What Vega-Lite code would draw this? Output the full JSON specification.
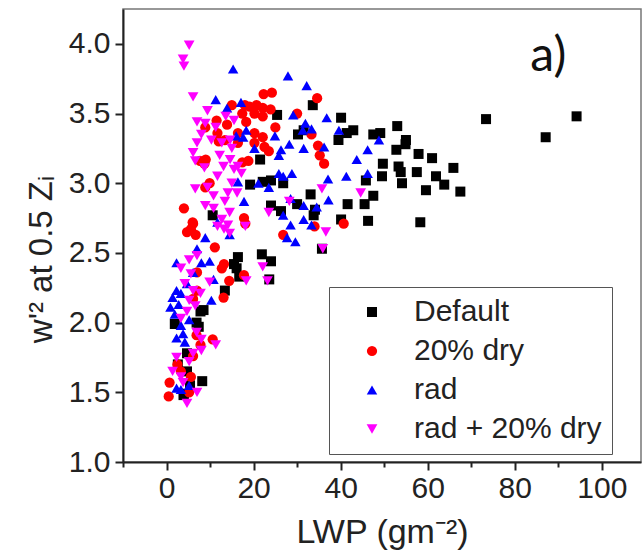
{
  "$schema": "https://vega.github.io/schema/vega-lite/v6.json",
  "width": 518,
  "height": 453,
  "autosize": {"type": "none"},
  "padding": {"left": 123, "top": 9, "right": 1, "bottom": 93},
  "background": "white",
  "config": {
    "font": "Liberation Sans",
    "view": {"stroke": "#777", "strokeWidth": 1.5},
    "axis": {"grid": false, "domainColor": "#222", "domainWidth": 2, "tickColor": "#222", "tickWidth": 2, "labelColor": "#222", "titleColor": "#222", "labelFont": "Liberation Sans", "titleFont": "Liberation Sans", "titleFontWeight": "normal"}
  },
  "layer": [
    {
      "data": {"values": [
        {"series":"Default","lwp":94.2,"w2":3.48},{"series":"Default","lwp":73.4,"w2":3.46},{"series":"Default","lwp":87.1,"w2":3.33},{"series":"Default","lwp":40.1,"w2":3.47},{"series":"Default","lwp":39.5,"w2":3.31},{"series":"Default","lwp":41.4,"w2":3.36},{"series":"Default","lwp":42.9,"w2":3.38},{"series":"Default","lwp":53,"w2":3.41},{"series":"Default","lwp":47.5,"w2":3.35},{"series":"Default","lwp":49.1,"w2":3.36},{"series":"Default","lwp":55,"w2":3.31},{"series":"Default","lwp":54.9,"w2":3.28},{"series":"Default","lwp":52.8,"w2":3.24},{"series":"Default","lwp":57.9,"w2":3.21},{"series":"Default","lwp":61,"w2":3.18},{"series":"Default","lwp":65.9,"w2":3.11},{"series":"Default","lwp":49.7,"w2":3.14},{"series":"Default","lwp":53.3,"w2":3.12},{"series":"Default","lwp":53.8,"w2":3.08},{"series":"Default","lwp":57.5,"w2":3.08},{"series":"Default","lwp":49.5,"w2":3.05},{"series":"Default","lwp":54.1,"w2":3.0},{"series":"Default","lwp":61.9,"w2":3.05},{"series":"Default","lwp":63.8,"w2":2.99},{"series":"Default","lwp":67.5,"w2":2.94},{"series":"Default","lwp":59.6,"w2":2.95},{"series":"Default","lwp":45.8,"w2":3.02},{"series":"Default","lwp":47.5,"w2":2.91},{"series":"Default","lwp":45.5,"w2":2.85},{"series":"Default","lwp":41.6,"w2":2.85},{"series":"Default","lwp":58.3,"w2":2.72},{"series":"Default","lwp":46.3,"w2":2.73},{"series":"Default","lwp":40.1,"w2":2.74},{"series":"Default","lwp":33.6,"w2":3.56},{"series":"Default","lwp":25.4,"w2":3.49},{"series":"Default","lwp":30.2,"w2":3.35},{"series":"Default","lwp":31.5,"w2":3.38},{"series":"Default","lwp":21.5,"w2":3.17},{"series":"Default","lwp":19.2,"w2":2.99},{"series":"Default","lwp":22.1,"w2":3.01},{"series":"Default","lwp":24,"w2":3.02},{"series":"Default","lwp":26.8,"w2":3.0},{"series":"Default","lwp":24,"w2":2.84},{"series":"Default","lwp":26.3,"w2":2.8},{"series":"Default","lwp":30,"w2":2.85},{"series":"Default","lwp":33.1,"w2":2.92},{"series":"Default","lwp":34.1,"w2":2.81},{"series":"Default","lwp":33.8,"w2":2.77},{"series":"Default","lwp":35.7,"w2":2.53},{"series":"Default","lwp":10.6,"w2":2.77},{"series":"Default","lwp":16.4,"w2":2.47},{"series":"Default","lwp":15.5,"w2":2.42},{"series":"Default","lwp":21.9,"w2":2.49},{"series":"Default","lwp":24,"w2":2.44},{"series":"Default","lwp":23.6,"w2":2.31},{"series":"Default","lwp":16.7,"w2":2.33},{"series":"Default","lwp":16.1,"w2":2.39},{"series":"Default","lwp":13.4,"w2":2.23},{"series":"Default","lwp":7.8,"w2":2.08},{"series":"Default","lwp":8.5,"w2":2.09},{"series":"Default","lwp":6.9,"w2":2.0},{"series":"Default","lwp":1.9,"w2":1.99},{"series":"Default","lwp":7.4,"w2":1.97},{"series":"Default","lwp":4.7,"w2":1.78},{"series":"Default","lwp":2.6,"w2":1.7},{"series":"Default","lwp":4.7,"w2":1.65},{"series":"Default","lwp":8.2,"w2":1.58},{"series":"Default","lwp":5.4,"w2":1.55},{"series":"Default","lwp":4.0,"w2":1.49},{"series":"Default","lwp":3.9,"w2":1.48},
        {"series":"20% dry","lwp":24.2,"w2":3.65},{"series":"20% dry","lwp":22.3,"w2":3.64},{"series":"20% dry","lwp":34.6,"w2":3.61},{"series":"20% dry","lwp":15,"w2":3.56},{"series":"20% dry","lwp":18,"w2":3.56},{"series":"20% dry","lwp":20.7,"w2":3.56},{"series":"20% dry","lwp":19.1,"w2":3.55},{"series":"20% dry","lwp":22.1,"w2":3.54},{"series":"20% dry","lwp":23.9,"w2":3.53},{"series":"20% dry","lwp":17.4,"w2":3.5},{"series":"20% dry","lwp":20.2,"w2":3.5},{"series":"20% dry","lwp":30,"w2":3.5},{"series":"20% dry","lwp":22.1,"w2":3.48},{"series":"20% dry","lwp":11.5,"w2":3.45},{"series":"20% dry","lwp":18.3,"w2":3.44},{"series":"20% dry","lwp":13.9,"w2":3.42},{"series":"20% dry","lwp":8.9,"w2":3.4},{"series":"20% dry","lwp":11.7,"w2":3.36},{"series":"20% dry","lwp":16.4,"w2":3.36},{"series":"20% dry","lwp":20.2,"w2":3.36},{"series":"20% dry","lwp":22.1,"w2":3.33},{"series":"20% dry","lwp":33.3,"w2":3.35},{"series":"20% dry","lwp":20.2,"w2":3.29},{"series":"20% dry","lwp":22.5,"w2":3.26},{"series":"20% dry","lwp":23.5,"w2":3.23},{"series":"20% dry","lwp":13.4,"w2":3.31},{"series":"20% dry","lwp":16.4,"w2":3.29},{"series":"20% dry","lwp":7.7,"w2":3.16},{"series":"20% dry","lwp":8.7,"w2":3.14},{"series":"20% dry","lwp":17.4,"w2":3.15},{"series":"20% dry","lwp":18.8,"w2":3.16},{"series":"20% dry","lwp":35.2,"w2":3.2},{"series":"20% dry","lwp":36.2,"w2":3.14},{"series":"20% dry","lwp":34.8,"w2":3.27},{"series":"20% dry","lwp":9.9,"w2":3.0},{"series":"20% dry","lwp":8.9,"w2":2.97},{"series":"20% dry","lwp":4.0,"w2":2.82},{"series":"20% dry","lwp":6.1,"w2":2.71},{"series":"20% dry","lwp":5.6,"w2":2.67},{"series":"20% dry","lwp":4.7,"w2":2.65},{"series":"20% dry","lwp":6.7,"w2":2.63},{"series":"20% dry","lwp":11.1,"w2":2.54},{"series":"20% dry","lwp":17.8,"w2":2.75},{"series":"20% dry","lwp":18.1,"w2":2.71},{"series":"20% dry","lwp":26.8,"w2":2.63},{"series":"20% dry","lwp":34,"w2":2.69},{"series":"20% dry","lwp":40.7,"w2":2.71},{"series":"20% dry","lwp":13.2,"w2":2.42},{"series":"20% dry","lwp":12.7,"w2":2.39},{"series":"20% dry","lwp":14.4,"w2":2.3},{"series":"20% dry","lwp":17.8,"w2":2.34},{"series":"20% dry","lwp":13.1,"w2":2.18},{"series":"20% dry","lwp":7,"w2":2.36},{"series":"20% dry","lwp":7,"w2":2.23},{"series":"20% dry","lwp":6.1,"w2":2.17},{"series":"20% dry","lwp":6.9,"w2":1.91},{"series":"20% dry","lwp":10.6,"w2":1.88},{"series":"20% dry","lwp":7.8,"w2":1.84},{"series":"20% dry","lwp":6.1,"w2":1.76},{"series":"20% dry","lwp":3.3,"w2":1.65},{"series":"20% dry","lwp":2.5,"w2":1.7},{"series":"20% dry","lwp":0.7,"w2":1.57},{"series":"20% dry","lwp":0.5,"w2":1.47},{"series":"20% dry","lwp":5.2,"w2":1.5},{"series":"20% dry","lwp":5.6,"w2":1.61},{"series":"20% dry","lwp":6,"w2":2.72},{"series":"20% dry","lwp":9,"w2":3.17},{"series":"20% dry","lwp":12,"w2":3.3},{"series":"20% dry","lwp":25,"w2":3.4},
        {"series":"rad","lwp":15.3,"w2":3.82},{"series":"rad","lwp":27.9,"w2":3.77},{"series":"rad","lwp":32.2,"w2":3.7},{"series":"rad","lwp":11.3,"w2":3.6},{"series":"rad","lwp":13.9,"w2":3.54},{"series":"rad","lwp":17.1,"w2":3.58},{"series":"rad","lwp":29.1,"w2":3.49},{"series":"rad","lwp":36.8,"w2":3.47},{"series":"rad","lwp":39.6,"w2":3.38},{"series":"rad","lwp":31.9,"w2":3.43},{"series":"rad","lwp":31.3,"w2":3.38},{"series":"rad","lwp":33.3,"w2":3.39},{"series":"rad","lwp":24.9,"w2":3.34},{"series":"rad","lwp":18.3,"w2":3.38},{"series":"rad","lwp":17.6,"w2":3.33},{"series":"rad","lwp":28.2,"w2":3.28},{"series":"rad","lwp":31.5,"w2":3.25},{"series":"rad","lwp":36.2,"w2":3.26},{"series":"rad","lwp":48.8,"w2":3.31},{"series":"rad","lwp":46.2,"w2":3.24},{"series":"rad","lwp":43.7,"w2":3.17},{"series":"rad","lwp":20.2,"w2":3.25},{"series":"rad","lwp":26.3,"w2":3.24},{"series":"rad","lwp":25.8,"w2":3.2},{"series":"rad","lwp":28.8,"w2":3.07},{"series":"rad","lwp":41.3,"w2":3.05},{"series":"rad","lwp":46.2,"w2":3.07},{"series":"rad","lwp":37.1,"w2":3.03},{"series":"rad","lwp":25.8,"w2":3.07},{"series":"rad","lwp":21.1,"w2":3.0},{"series":"rad","lwp":23.5,"w2":2.97},{"series":"rad","lwp":26.8,"w2":3.05},{"series":"rad","lwp":17.8,"w2":2.87},{"series":"rad","lwp":28.5,"w2":2.89},{"series":"rad","lwp":31.5,"w2":2.84},{"series":"rad","lwp":34.5,"w2":2.83},{"series":"rad","lwp":37.2,"w2":2.88},{"series":"rad","lwp":26.8,"w2":2.77},{"series":"rad","lwp":28.5,"w2":2.7},{"series":"rad","lwp":31.5,"w2":2.74},{"series":"rad","lwp":33.3,"w2":2.7},{"series":"rad","lwp":27.7,"w2":2.61},{"series":"rad","lwp":29.6,"w2":2.58},{"series":"rad","lwp":8.9,"w2":2.61},{"series":"rad","lwp":14.5,"w2":2.63},{"series":"rad","lwp":11.7,"w2":2.72},{"series":"rad","lwp":2.3,"w2":2.43},{"series":"rad","lwp":7.0,"w2":2.53},{"series":"rad","lwp":8.0,"w2":2.43},{"series":"rad","lwp":9.9,"w2":2.44},{"series":"rad","lwp":10.8,"w2":2.31},{"series":"rad","lwp":10.3,"w2":2.16},{"series":"rad","lwp":2.3,"w2":2.23},{"series":"rad","lwp":1.4,"w2":2.18},{"series":"rad","lwp":3.3,"w2":2.21},{"series":"rad","lwp":0.9,"w2":2.11},{"series":"rad","lwp":2.8,"w2":2.13},{"series":"rad","lwp":1.9,"w2":2.06},{"series":"rad","lwp":3.3,"w2":1.98},{"series":"rad","lwp":3.8,"w2":1.92},{"series":"rad","lwp":2.3,"w2":1.89},{"series":"rad","lwp":4.2,"w2":1.86},{"series":"rad","lwp":5.2,"w2":2.02},{"series":"rad","lwp":3.3,"w2":1.52},{"series":"rad","lwp":2.3,"w2":1.53},{"series":"rad","lwp":5.2,"w2":1.55},{"series":"rad","lwp":6.1,"w2":2.36},{"series":"rad","lwp":4.7,"w2":2.28},{"series":"rad","lwp":16,"w2":3.34},{"series":"rad","lwp":16.4,"w2":3.01},
        {"series":"rad + 20% dry","lwp":5.2,"w2":3.99},{"series":"rad + 20% dry","lwp":3.8,"w2":3.89},{"series":"rad + 20% dry","lwp":4.0,"w2":3.84},{"series":"rad + 20% dry","lwp":6.1,"w2":3.62},{"series":"rad + 20% dry","lwp":9.4,"w2":3.52},{"series":"rad + 20% dry","lwp":7.0,"w2":3.44},{"series":"rad + 20% dry","lwp":8.9,"w2":3.43},{"series":"rad + 20% dry","lwp":11.3,"w2":3.4},{"series":"rad + 20% dry","lwp":13.6,"w2":3.48},{"series":"rad + 20% dry","lwp":15.5,"w2":3.45},{"series":"rad + 20% dry","lwp":8,"w2":3.35},{"series":"rad + 20% dry","lwp":7.0,"w2":3.29},{"series":"rad + 20% dry","lwp":10.3,"w2":3.31},{"series":"rad + 20% dry","lwp":12.7,"w2":3.29},{"series":"rad + 20% dry","lwp":14.6,"w2":3.31},{"series":"rad + 20% dry","lwp":15,"w2":3.25},{"series":"rad + 20% dry","lwp":6.1,"w2":3.22},{"series":"rad + 20% dry","lwp":6.6,"w2":3.16},{"series":"rad + 20% dry","lwp":8.7,"w2":3.11},{"series":"rad + 20% dry","lwp":12.2,"w2":3.2},{"series":"rad + 20% dry","lwp":14.6,"w2":3.17},{"series":"rad + 20% dry","lwp":16.4,"w2":3.12},{"series":"rad + 20% dry","lwp":17.2,"w2":3.07},{"series":"rad + 20% dry","lwp":15.5,"w2":3.1},{"series":"rad + 20% dry","lwp":13.1,"w2":3.12},{"series":"rad + 20% dry","lwp":11.7,"w2":3.05},{"series":"rad + 20% dry","lwp":6.6,"w2":2.96},{"series":"rad + 20% dry","lwp":9.4,"w2":2.97},{"series":"rad + 20% dry","lwp":10.8,"w2":2.91},{"series":"rad + 20% dry","lwp":14.1,"w2":2.93},{"series":"rad + 20% dry","lwp":15,"w2":3.0},{"series":"rad + 20% dry","lwp":16.2,"w2":2.93},{"series":"rad + 20% dry","lwp":13.4,"w2":2.87},{"series":"rad + 20% dry","lwp":8.9,"w2":2.84},{"series":"rad + 20% dry","lwp":10.8,"w2":2.82},{"series":"rad + 20% dry","lwp":14.5,"w2":2.79},{"series":"rad + 20% dry","lwp":12.7,"w2":2.74},{"series":"rad + 20% dry","lwp":11.7,"w2":2.69},{"series":"rad + 20% dry","lwp":13.2,"w2":2.67},{"series":"rad + 20% dry","lwp":14.1,"w2":2.7},{"series":"rad + 20% dry","lwp":14.5,"w2":2.64},{"series":"rad + 20% dry","lwp":18.1,"w2":2.69},{"series":"rad + 20% dry","lwp":23.5,"w2":2.79},{"series":"rad + 20% dry","lwp":28.2,"w2":2.87},{"series":"rad + 20% dry","lwp":35.7,"w2":2.96},{"series":"rad + 20% dry","lwp":44.6,"w2":2.93},{"series":"rad + 20% dry","lwp":36.6,"w2":2.65},{"series":"rad + 20% dry","lwp":35.9,"w2":2.53},{"series":"rad + 20% dry","lwp":22.1,"w2":2.4},{"series":"rad + 20% dry","lwp":23.2,"w2":2.3},{"series":"rad + 20% dry","lwp":18.3,"w2":2.3},{"series":"rad + 20% dry","lwp":9.9,"w2":2.29},{"series":"rad + 20% dry","lwp":5.2,"w2":2.45},{"series":"rad + 20% dry","lwp":7.0,"w2":2.48},{"series":"rad + 20% dry","lwp":3.3,"w2":2.39},{"series":"rad + 20% dry","lwp":5.6,"w2":2.35},{"series":"rad + 20% dry","lwp":4.2,"w2":2.28},{"series":"rad + 20% dry","lwp":6.1,"w2":2.23},{"series":"rad + 20% dry","lwp":7.8,"w2":2.21},{"series":"rad + 20% dry","lwp":5.2,"w2":2.16},{"series":"rad + 20% dry","lwp":6.6,"w2":2.12},{"series":"rad + 20% dry","lwp":4.7,"w2":2.08},{"series":"rad + 20% dry","lwp":3.3,"w2":2.03},{"series":"rad + 20% dry","lwp":6.9,"w2":1.93},{"series":"rad + 20% dry","lwp":8.0,"w2":1.88},{"series":"rad + 20% dry","lwp":11.3,"w2":1.84},{"series":"rad + 20% dry","lwp":6.1,"w2":1.78},{"series":"rad + 20% dry","lwp":8.0,"w2":1.8},{"series":"rad + 20% dry","lwp":5.2,"w2":1.72},{"series":"rad + 20% dry","lwp":2.3,"w2":1.75},{"series":"rad + 20% dry","lwp":1.4,"w2":1.65},{"series":"rad + 20% dry","lwp":3.8,"w2":1.57},{"series":"rad + 20% dry","lwp":7.0,"w2":1.5},{"series":"rad + 20% dry","lwp":4.7,"w2":1.42},{"series":"rad + 20% dry","lwp":3.3,"w2":1.61}
      ]},
      "mark": {"type": "point", "filled": true, "opacity": 1},
      "encoding": {
        "x": {"field": "lwp", "type": "quantitative", "scale": {"domain": [-10, 109], "nice": false, "zero": false},
          "axis": {"values": [-10, 0, 10, 20, 30, 40, 50, 60, 70, 80, 90, 100], "labelExpr": "datum.value % 20 === 0 ? datum.label : ''", "tickSize": {"condition": {"test": "datum.value % 20 === 0", "value": 8}, "value": 5}, "labelFontSize": 30, "labelPadding": 3, "title": "LWP (gm⁻²)", "titleFontSize": 34, "titlePadding": 12}},
        "y": {"field": "w2", "type": "quantitative", "scale": {"domain": [1, 4.25], "nice": false, "zero": false},
          "axis": {"values": [1, 1.25, 1.5, 1.75, 2, 2.25, 2.5, 2.75, 3, 3.25, 3.5, 3.75, 4], "format": ".2f", "labelExpr": "abs(datum.value*2 - round(datum.value*2)) < 0.001 ? format(datum.value, '.1f') : ''", "tickSize": {"condition": {"test": "abs(datum.value*2 - round(datum.value*2)) < 0.001", "value": 8}, "value": 5}, "labelFontSize": 30, "labelPadding": 5, "title": "w'² at 0.5 Zᵢ", "titleFontSize": 33, "titlePadding": 10, "titleY": 250}},
        "color": {"field": "series", "type": "nominal",
          "scale": {"domain": ["Default", "20% dry", "rad", "rad + 20% dry"], "range": ["#000000", "#ff0000", "#0000ff", "#ff00ff"]},
          "legend": {"title": null, "orient": "none", "legendX": 206, "legendY": 278, "padding": 10, "symbolOffset": 18, "labelOffset": 27, "rowPadding": 9, "labelFontSize": 30, "labelColor": "#222", "labelLimit": 400, "strokeColor": "#555", "fillColor": "white"}},
        "shape": {"field": "series", "type": "nominal",
          "scale": {"domain": ["Default", "20% dry", "rad", "rad + 20% dry"], "range": ["square", "circle", "triangle-up", "triangle-down"]},
          "legend": {"title": null, "orient": "none", "legendX": 206, "legendY": 278, "padding": 10, "symbolOffset": 18, "labelOffset": 27, "rowPadding": 9, "labelFontSize": 30, "labelColor": "#222", "labelLimit": 400, "strokeColor": "#555", "fillColor": "white"}},
        "size": {"field": "series", "type": "ordinal",
          "scale": {"domain": ["Default", "20% dry", "rad", "rad + 20% dry"], "range": [100, 115, 170, 170]},
          "legend": {"title": null, "orient": "none", "legendX": 206, "legendY": 278, "padding": 10, "symbolOffset": 18, "labelOffset": 27, "rowPadding": 9, "labelFontSize": 30, "labelColor": "#222", "labelLimit": 400, "strokeColor": "#555", "fillColor": "white"}}
      }
    },
    {
      "data": {"values": [{"label": "a)", "lwp": 87.7, "w2": 3.907}]},
      "mark": {"type": "text", "font": "Lato", "fontSize": 48, "align": "center", "baseline": "middle", "color": "#111"},
      "encoding": {
        "x": {"field": "lwp", "type": "quantitative"},
        "y": {"field": "w2", "type": "quantitative"},
        "text": {"field": "label"}
      }
    }
  ]
}
